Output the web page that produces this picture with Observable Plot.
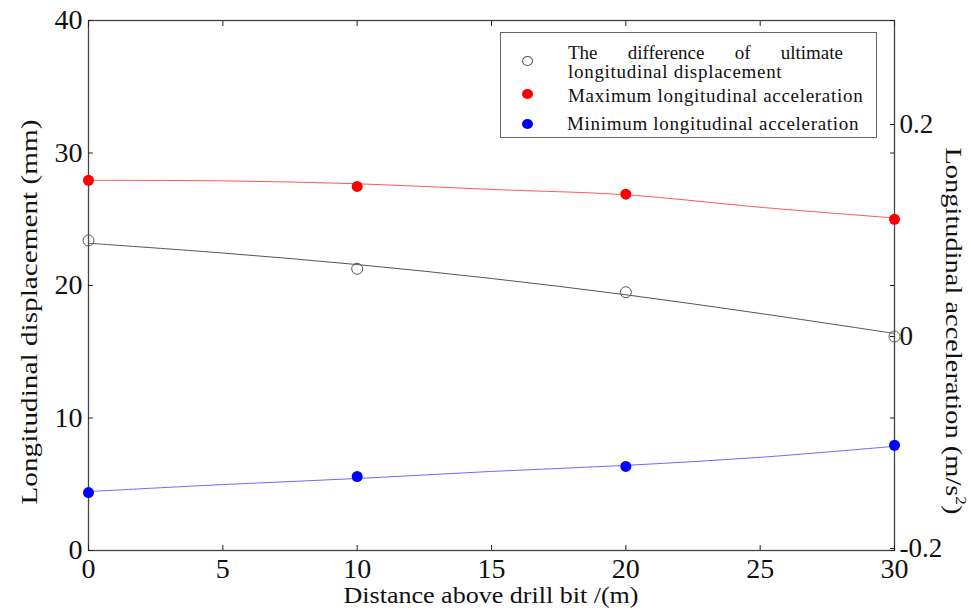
<!DOCTYPE html>
<html><head><meta charset="utf-8">
<script src="https://cdn.jsdelivr.net/npm/d3@7"></script>
<script src="https://cdn.jsdelivr.net/npm/@observablehq/plot@0.6"></script>
<style>
body{margin:0;background:#fff}
#wrap{position:relative;width:971px;height:610px;font-family:"Liberation Serif",serif;color:#111}
#wrap svg, #wrap svg text{font-family:"Liberation Serif",serif !important}
#legend{position:absolute;left:500px;top:32px;width:377px;height:106px;border:1px solid #666;box-sizing:border-box;background:#fff;font-size:19px;line-height:18px;letter-spacing:0.7px}
#legend .it{position:absolute;white-space:nowrap}
#legend .mk{position:absolute;width:11px;height:10px;border-radius:50%;box-sizing:border-box}
</style>
</head><body><div id="wrap"></div>
<script>
// ---- data ----
const distance = [0, 10, 20, 30];
const dispDiff = [23.4, 21.26, 19.49, 16.15];          // mm (left axis)
const accMax = [0.1492, 0.1435, 0.1362, 0.1124];       // m/s^2 (right axis)
const accMin = [-0.1454, -0.1302, -0.1207, -0.1007];   // m/s^2 (right axis)
const fitX = [0, 5, 10, 15, 20, 25, 30];
const fitDisp = [23.19, 22.45, 21.58, 20.53, 19.3, 17.89, 16.38];
const fitMax = [0.1492, 0.1487, 0.1460, 0.1406, 0.1356, 0.1238, 0.1137];
const fitMin = [-0.1444, -0.1378, -0.1321, -0.1254, -0.1197, -0.1121, -0.1017];
const xTicks = [0, 5, 10, 15, 20, 25, 30];
const leftTicks = [0, 10, 20, 30, 40];
const rightTicks = [-0.2, 0, 0.2];
const xDomain = [0, 30];
const leftDomain = [0, 40];
const rightDomain = [-0.2, 0.3];
const legendLabels = ["The difference of ultimate", "longitudinal displacement", "Maximum longitudinal acceleration", "Minimum longitudinal acceleration"];
const xLabel = "Distance above drill bit /(m)";
const yLabel = "Longitudinal displacement (mm)";
const y2Label = "Longitudinal acceleration (m/s";

// map right-axis values onto the left scale
const toLeft = a => leftDomain[0] + (a - rightDomain[0]) * (leftDomain[1] - leftDomain[0]) / (rightDomain[1] - rightDomain[0]);
const fromLeft = v => rightDomain[0] + (v - leftDomain[0]) * (rightDomain[1] - rightDomain[0]) / (leftDomain[1] - leftDomain[0]);

const pts = (xs, ys, f = d => d) => xs.map((x, i) => ({x, y: f(ys[i])}));

const W = 971, H = 610, ML = 88, MR = 77, MT = 20, MB = 60;
const FF = '"Liberation Serif", serif';

const chart = Plot.plot({
  width: W, height: H,
  marginLeft: ML, marginRight: MR, marginTop: MT, marginBottom: MB,
  style: {fontFamily: FF, color: "#111", background: "#fff"},
  x: {domain: xDomain},
  y: {domain: leftDomain},
  marks: [
    Plot.frame({stroke: "#444", strokeWidth: 1.3}),
    Plot.axisX({anchor: "bottom", ticks: xTicks, tickSize: -5, tickPadding: 13, fontSize: 28, label: null, stroke: "#222"}),
    Plot.axisX({anchor: "top", ticks: xTicks, tickSize: -5, tickFormat: () => "", label: null, stroke: "#222"}),
    Plot.axisY({anchor: "left", ticks: leftTicks, tickSize: -5, tickPadding: 11, fontSize: 28, label: null, stroke: "#222"}),
    Plot.axisY({anchor: "right", ticks: leftTicks, tickSize: -5, tickFormat: () => "", label: null, stroke: "#222"}),
    Plot.axisY({anchor: "right", ticks: rightTicks.map(toLeft), tickSize: -5, tickPadding: 10, fontSize: 27, dy: -2, label: null, stroke: "#222",
      tickFormat: d => String(+fromLeft(d).toFixed(1))}),
    Plot.line(pts(fitX, fitMax, toLeft), {x: "x", y: "y", stroke: "#ff5a5a", strokeWidth: 1, curve: "catmull-rom"}),
    Plot.line(pts(fitX, fitDisp), {x: "x", y: "y", stroke: "#555", strokeWidth: 1, curve: "catmull-rom"}),
    Plot.line(pts(fitX, fitMin, toLeft), {x: "x", y: "y", stroke: "#6a6aff", strokeWidth: 1, curve: "catmull-rom"}),
    Plot.dot(pts(distance, dispDiff), {x: "x", y: "y", r: 5.5, stroke: "#555", strokeWidth: 1, fill: "none"}),
    Plot.dot(pts(distance, accMax, toLeft), {x: "x", y: "y", r: 5.5, fill: "#ff0000", stroke: "none"}),
    Plot.dot(pts(distance, accMin, toLeft), {x: "x", y: "y", r: 5.5, fill: "#0000ff", stroke: "none"})
  ]
});

const wrap = document.getElementById("wrap");
wrap.appendChild(chart);

// axis titles
const svg = d3.select(chart);
svg.append("text").attr("x", (ML + W - MR) / 2).attr("y", 597).attr("text-anchor", "middle")
  .attr("dominant-baseline", "middle").attr("font-size", 24).attr("fill", "#111")
  .attr("textLength", 295).attr("lengthAdjust", "spacingAndGlyphs").text(xLabel);
svg.append("text").attr("transform", `translate(31,312) rotate(-90)`).attr("text-anchor", "middle")
  .attr("dominant-baseline", "middle").attr("font-size", 24).attr("fill", "#111")
  .attr("textLength", 385).attr("lengthAdjust", "spacingAndGlyphs").text(yLabel);
const t2 = svg.append("text").attr("transform", `translate(951,331) rotate(90)`).attr("text-anchor", "middle")
  .attr("dominant-baseline", "middle").attr("font-size", 23).attr("fill", "#111")
  .attr("textLength", 367).attr("lengthAdjust", "spacingAndGlyphs");
t2.append("tspan").text(y2Label);
t2.append("tspan").attr("dy", -8).attr("font-size", 14).text("2");
t2.append("tspan").attr("dy", 8).text(")");

// legend
const lg = document.createElement("div");
lg.id = "legend";
lg.innerHTML = `
  <div class="mk" style="left:21px;top:23px;border:1px solid #555"></div>
  <div class="it" style="left:67px;top:11px;width:275px;text-align:justify;text-align-last:justify;white-space:normal;letter-spacing:0">${legendLabels[0]}</div>
  <div class="it" style="left:67px;top:30px">${legendLabels[1]}</div>
  <div class="mk" style="left:21px;top:56px;background:#ff0000"></div>
  <div class="it" style="left:67px;top:54px">${legendLabels[2]}</div>
  <div class="mk" style="left:21px;top:86px;background:#0000ff"></div>
  <div class="it" style="left:66px;top:82px">${legendLabels[3]}</div>`;
wrap.appendChild(lg);
</script>
</body></html>
